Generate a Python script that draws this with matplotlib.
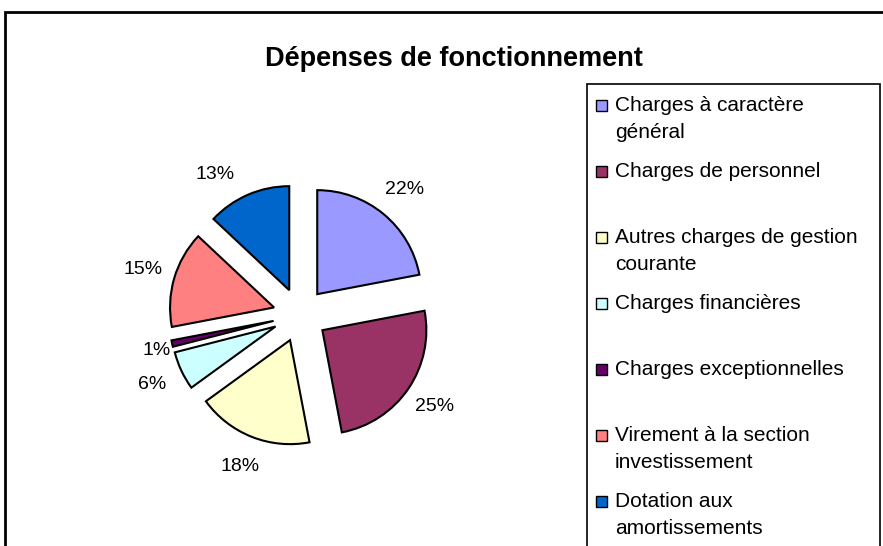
import matplotlib as mpl
mpl.use('Agg')
import matplotlib.pyplot as plt
from matplotlib.patches import Rectangle

plt.rcParams['font.family'] = ['Liberation Sans', 'DejaVu Sans']

title = 'Dépenses de fonctionnement'
categories = ['Charges à caractère\ngénéral', 'Charges de personnel',
              'Autres charges de gestion\ncourante', 'Charges financières',
              'Charges exceptionnelles', 'Virement à la section\ninvestissement',
              'Dotation aux\namortissements']
shares = [22, 25, 18, 6, 1, 15, 13]
colors = ['#9999FF', '#993366', '#FFFFCC', '#CCFFFF', '#660066', '#FF8080', '#0066CC']

W, H = 883, 546
fg = plt.figure(figsize=(W / 100, H / 100), dpi=100)

def fx(px):
    return px / W

def fy(py):
    return 1 - py / H

# outer chart frame (cut off at right and bottom, as in the screenshot)
fg.patches.append(Rectangle((fx(5), fy(560)), fx(900), fy(12) - fy(560),
                            transform=fg.transFigure, fill=False,
                            edgecolor='black', linewidth=2))

fg.text(fx(454), fy(66), title, ha='center', va='baseline',
        fontsize=19.5, fontweight='bold')

# pie: centre (300, 315) px, radius ~104 px
cx, cy, R = 300, 315, 104
ax = fg.add_axes([fx(cx - 2 * R), fy(cy + 2 * R), fx(4 * R), fy(cy - 2 * R) - fy(cy + 2 * R)])
wedges, texts, pcts = ax.pie(shares, colors=colors, startangle=90, counterclock=False,
                             explode=[0.26] * len(shares), autopct='%d%%', pctdistance=1.31,
                             wedgeprops=dict(edgecolor='black', linewidth=1.5),
                             textprops=dict(fontsize=14))
# Excel puts a couple of labels slightly off the bisector
nudge = {4: (0.15, 0.0), 6: (-0.19, -0.09)}
for i, (dx, dy) in nudge.items():
    x, y = pcts[i].get_position()
    pcts[i].set_position((x + dx, y + dy))
ax.set_xlim(-2, 2)
ax.set_ylim(-2, 2)
ax.set_aspect('equal')
ax.axis('off')

# legend box
fg.patches.append(Rectangle((fx(587), fy(560)), fx(880) - fx(587), fy(84) - fy(560),
                            transform=fg.transFigure, facecolor='white',
                            edgecolor='black', linewidth=1.2))
for i, (name, col) in enumerate(zip(categories, colors)):
    base = 111 + 66 * i
    fg.patches.append(Rectangle((fx(596), fy(base)), fx(11), fy(0) - fy(11),
                                transform=fg.transFigure, facecolor=col,
                                edgecolor='black', linewidth=1))
    for j, line in enumerate(name.split('\n')):
        fg.text(fx(615), fy(base + 27 * j), line, ha='left', va='baseline',
                fontsize=15)

fg.savefig('out.png', dpi=100)
